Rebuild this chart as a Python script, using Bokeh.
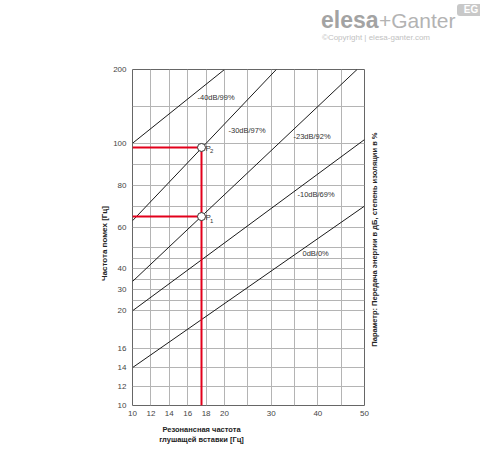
import numpy as np
from bokeh.plotting import figure
from bokeh.layouts import column
from bokeh.models import Range1d, FixedTicker, LinearAxis, Div
from bokeh.core.properties import value
from bokeh.embed import file_html
from bokeh.resources import INLINE

# ---------------- data (Hz) ----------------
x_tick_values = [10, 12, 14, 16, 18, 20, 30, 40, 50]
x_grid_values = [10, 12, 14, 16, 18, 20, 25, 30, 35, 40, 45, 50]
y_tick_values = [10, 12, 14, 16, 20, 30, 40, 60, 80, 100, 200]
y_grid_values = [10, 12, 14, 16, 18, 20, 25, 30, 35, 40, 45, 50, 60, 70, 80, 90, 100, 150, 200]

# the original chart uses piecewise-linear axes
x_breaks = [10, 20, 50]
y_breaks = [10, 20, 100, 200]

curve_names = ["-40dB/99%", "-30dB/97%", "-23dB/92%", "-10dB/69%", "0dB/0%"]
curve_x_start = [10, 10, 10, 10, 10]
curve_y_start = [100, 63, 34, 20, 14]
curve_x_end = [20, 31.1, 48.4, 50, 50]
curve_y_end = [200, 200, 200, 105, 70]

point_names = ["P", "P"]
point_subs = ["2", "1"]
point_x = [17.5, 17.5]
point_y = [98, 65]

x_title_lines = ["Резонансная частота", "глушащей вставки [Гц]"]
y_title = "Частота помех [Гц]"
right_title = "Параметр: Передача энергии в дБ, степень изоляции в %"

# ---------------- scale helpers ----------------
X_BREAK_POS = [0, 92, 232]
Y_BREAK_POS = [0, 95, 263, 337]


def fx(v):
    return float(np.interp(v, x_breaks, X_BREAK_POS))


def fy(v):
    return float(np.interp(v, y_breaks, Y_BREAK_POS))


FONT = value("Liberation Sans")
W = 480
LOGO_H = 60
MAIN_H = 386

# ---------------- logo strip ----------------
logo_html = """
<div style="position:relative;width:480px;height:60px;overflow:hidden;
            font-family:'Liberation Sans',Arial,sans-serif;">
  <span style="position:absolute;left:321px;top:8.5px;font-size:23px;line-height:23px;
               font-weight:bold;color:#a3a3a3;white-space:nowrap;">elesa</span>
  <span style="position:absolute;left:379px;top:10px;font-size:21px;line-height:21px;
               color:#b3b3b3;white-space:nowrap;">+Ganter</span>
  <span style="position:absolute;left:322px;top:33.5px;font-size:8px;line-height:8px;
               color:#c2c2c2;white-space:nowrap;">©Copyright | elesa-ganter.com</span>
  <span style="position:absolute;left:457px;top:4px;width:28px;height:12px;
               background:#c8c8c8;border-radius:3px;color:white;font-size:10px;
               line-height:12px;font-weight:bold;text-align:center;">EG</span>
</div>
"""
logo = Div(text=logo_html, width=W, height=LOGO_H, margin=0)

# ---------------- main chart ----------------
p = figure(width=W, height=MAIN_H, output_backend="svg", toolbar_location=None,
           x_range=Range1d(0, X_BREAK_POS[-1]), y_range=Range1d(0, Y_BREAK_POS[-1]),
           min_border_left=132, min_border_right=W - 132 - 232,
           min_border_top=9, min_border_bottom=MAIN_H - 9 - 337)
p.title.visible = False
p.background_fill_color = "white"
p.border_fill_color = "white"
p.outline_line_color = "#666666"
p.outline_line_width = 1

# grid
p.xgrid.ticker = FixedTicker(ticks=[fx(v) for v in x_grid_values])
p.ygrid.ticker = FixedTicker(ticks=[fy(v) for v in y_grid_values])
for g in (p.xgrid, p.ygrid):
    g.grid_line_color = "#b4b4b4"
    g.grid_line_width = 1

# axes with tick labels
p.xaxis.ticker = FixedTicker(ticks=[fx(v) for v in x_tick_values])
p.xaxis.major_label_overrides = {fx(v): str(v) for v in x_tick_values}
p.yaxis.ticker = FixedTicker(ticks=[fy(v) for v in y_tick_values])
p.yaxis.major_label_overrides = {fy(v): str(v) for v in y_tick_values}


def style_axis(ax, size="8px", bold=False, color="#444444", standoff=5):
    ax.axis_line_color = None
    ax.major_tick_line_color = None
    ax.minor_tick_line_color = None
    ax.major_tick_out = 0
    ax.major_tick_in = 0
    ax.minor_tick_out = 0
    ax.minor_tick_in = 0
    ax.major_label_text_font = "Liberation Sans"
    ax.major_label_text_font_size = size
    ax.major_label_text_color = color
    ax.major_label_standoff = standoff
    if bold:
        ax.major_label_text_font_style = "bold"


style_axis(p.xaxis[0], standoff=5)
style_axis(p.yaxis[0], standoff=6)

# axis titles (rendered as single-tick axes so they sit outside the frame)
Y_TITLE_POS = 200
yt = LinearAxis(ticker=FixedTicker(ticks=[Y_TITLE_POS]),
                major_label_overrides={Y_TITLE_POS: y_title},
                major_label_orientation=np.pi / 2)
style_axis(yt, size="8px", bold=True, color="#222222", standoff=6)
p.add_layout(yt, "left")

R_TITLE_POS = 59
rt = LinearAxis(ticker=FixedTicker(ticks=[R_TITLE_POS]),
                major_label_overrides={R_TITLE_POS: right_title},
                major_label_orientation=np.pi / 2)
style_axis(rt, size="7.5px", bold=True, color="#222222", standoff=10)
p.add_layout(rt, "right")

X_TITLE_POS = 69
for line, so in zip(x_title_lines, (6, -2)):
    xt = LinearAxis(ticker=FixedTicker(ticks=[X_TITLE_POS]),
                    major_label_overrides={X_TITLE_POS: line})
    style_axis(xt, size="7.5px", bold=True, color="#222222", standoff=so)
    p.add_layout(xt, "below")

# curves
for x0, y0, x1, y1 in zip(curve_x_start, curve_y_start, curve_x_end, curve_y_end):
    p.line([fx(x0), fx(x1)], [fy(y0), fy(y1)], line_color="#1a1a1a", line_width=1)

# curve labels (frame positions)
label_u = [65, 96, 161, 165, 170]
label_v = [309, 276, 270, 212, 152]
p.text(x=label_u, y=label_v, text=curve_names, text_font=FONT, text_font_size="7.5px",
       text_color="#333333", text_baseline="middle", text_align="left")

# red construction lines
RED = "#e3001b"
for px, py in zip(point_x, point_y):
    p.line([fx(x_breaks[0]), fx(px)], [fy(py), fy(py)], line_color=RED, line_width=2)
p.line([fx(point_x[0]), fx(point_x[0])], [fy(y_breaks[0]), fy(max(point_y))],
       line_color=RED, line_width=2)

# points
p.scatter([fx(v) for v in point_x], [fy(v) for v in point_y], size=8,
          fill_color="white", line_color="#333333", line_width=1)
p.text(x=[fx(v) + 4 for v in point_x], y=[fy(v) - 1 for v in point_y], text=point_names,
       text_font=FONT, text_font_size="8px", text_color="#333333",
       text_baseline="middle", text_align="left")
p.text(x=[fx(v) + 8.5 for v in point_x], y=[fy(v) - 4 for v in point_y], text=point_subs,
       text_font=FONT, text_font_size="6px", text_color="#333333",
       text_baseline="middle", text_align="left")

page = column(logo, p, spacing=0)
open("out.html", "w").write(file_html(page, INLINE))
